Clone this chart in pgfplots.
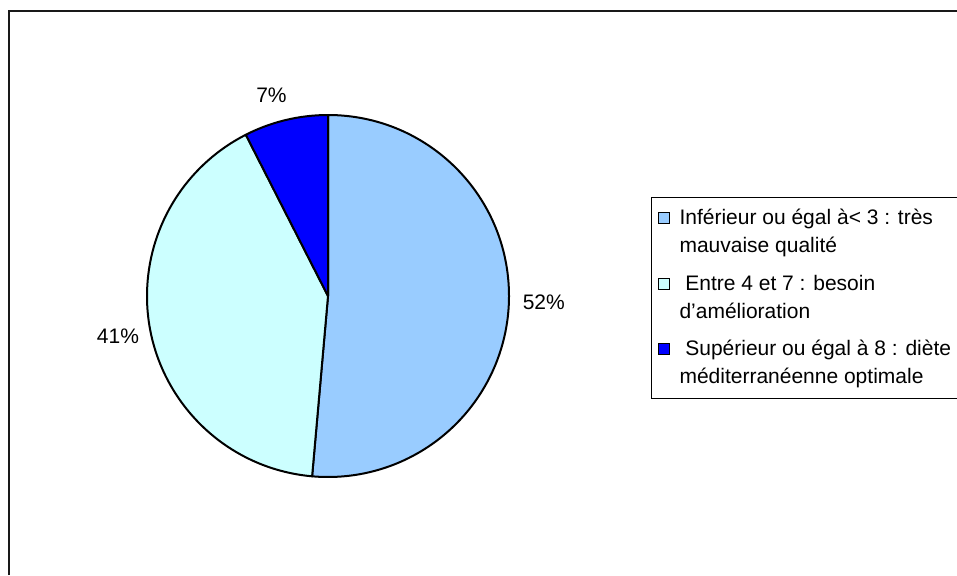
\documentclass[border=0pt]{standalone}
\usepackage{pgfplots}
\pgfplotsset{compat=1.18}
\usepackage{pgfplotstable}
\usepackage{fontspec}
\setmainfont{Liberation Sans}
\definecolor{sliceA}{HTML}{99CCFF}
\definecolor{sliceB}{HTML}{CCFFFF}
\definecolor{sliceC}{HTML}{0000FF}

% share (per cent of the pie) and printed label
\pgfplotstableread{
value label
51.4 52
41.1 41
7.5 7
}\piedata

\pgfplotstablegetelem{0}{value}\of\piedata \pgfmathsetmacro\va{\pgfplotsretval}
\pgfplotstablegetelem{1}{value}\of\piedata \pgfmathsetmacro\vb{\pgfplotsretval}
\pgfplotstablegetelem{2}{value}\of\piedata \pgfmathsetmacro\vc{\pgfplotsretval}
\pgfplotstablegetelem{0}{label}\of\piedata \edef\la{\pgfplotsretval}
\pgfplotstablegetelem{1}{label}\of\piedata \edef\lb{\pgfplotsretval}
\pgfplotstablegetelem{2}{label}\of\piedata \edef\lc{\pgfplotsretval}
\pgfmathsetmacro\angA{90-3.6*\va}
\pgfmathsetmacro\angB{\angA-3.6*\vb}
\pgfmathsetmacro\angC{\angB-3.6*\vc}
\pgfmathsetmacro\midA{(90+\angA)/2}
\pgfmathsetmacro\midB{(\angA+\angB)/2}
\pgfmathsetmacro\midC{(\angB+\angC)/2}
\def\R{90.5pt}
\def\LR{107pt}

\begin{document}
\begin{tikzpicture}
\begin{axis}[
  name=ax,
  x=0.5pt, y=0.5pt,
  xmin=0, xmax=957, ymin=0, ymax=575,
  hide axis, clip=false,
  legend style={
    at={(axis cs:651,378)}, anchor=north west,
    draw=black, line width=0.5pt,
    inner xsep=3pt, inner ysep=4pt,
    row sep=5.5pt, column sep=3pt,
    font=\fontsize{10.5}{14}\selectfont,
    cells={anchor=base west, align=left},
  },
  legend cell align=left,
]
% outer frame (only top and left edges are inside the picture)
\draw[line width=1.1pt, black!90] (axis cs:9,0) -- (axis cs:9,564) -- (axis cs:957,564);

% pie slices, clockwise from the top
\filldraw[fill=sliceA, draw=black, line width=1pt, line join=round]
  (axis cs:328,279) -- ++(90:\R) arc[start angle=90, end angle=\angA, radius=\R] -- cycle;
\filldraw[fill=sliceB, draw=black, line width=1pt, line join=round]
  (axis cs:328,279) -- ++(\angA:\R) arc[start angle=\angA, end angle=\angB, radius=\R] -- cycle;
\filldraw[fill=sliceC, draw=black, line width=1pt, line join=round]
  (axis cs:328,279) -- ++(\angB:\R) arc[start angle=\angB, end angle=\angC, radius=\R] -- cycle;

% percentage labels
\path[font=\fontsize{10.5}{12}\selectfont]
  (axis cs:328,279) ++(\midA:\LR) ++(1pt,1.5pt) node {\la\%}
  (axis cs:328,279) ++(\midB:\LR) node {\lb\%}
  (axis cs:328,279) ++(\midC:104pt) ++(-4pt,-1pt) node {\lc\%};

\addlegendimage{legend image code/.code={\draw[fill=sliceA, draw=black, line width=0.5pt] (0pt,4.5pt) rectangle (5.5pt,10pt);}}
\addlegendentry{Inférieur ou égal à< 3 : très\\mauvaise qualité}
\addlegendimage{legend image code/.code={\draw[fill=sliceB, draw=black, line width=0.5pt] (0pt,4.5pt) rectangle (5.5pt,10pt);}}
\addlegendentry{\ Entre 4 et 7 : besoin\\d’amélioration}
\addlegendimage{legend image code/.code={\draw[fill=sliceC, draw=black, line width=0.5pt] (0pt,4.5pt) rectangle (5.5pt,10pt);}}
\addlegendentry{\ Supérieur ou égal à 8 : diète\\méditerranéenne optimale}
\end{axis}
\pgfresetboundingbox
\path (ax.south west) rectangle (ax.north east);
\end{tikzpicture}
\end{document}
